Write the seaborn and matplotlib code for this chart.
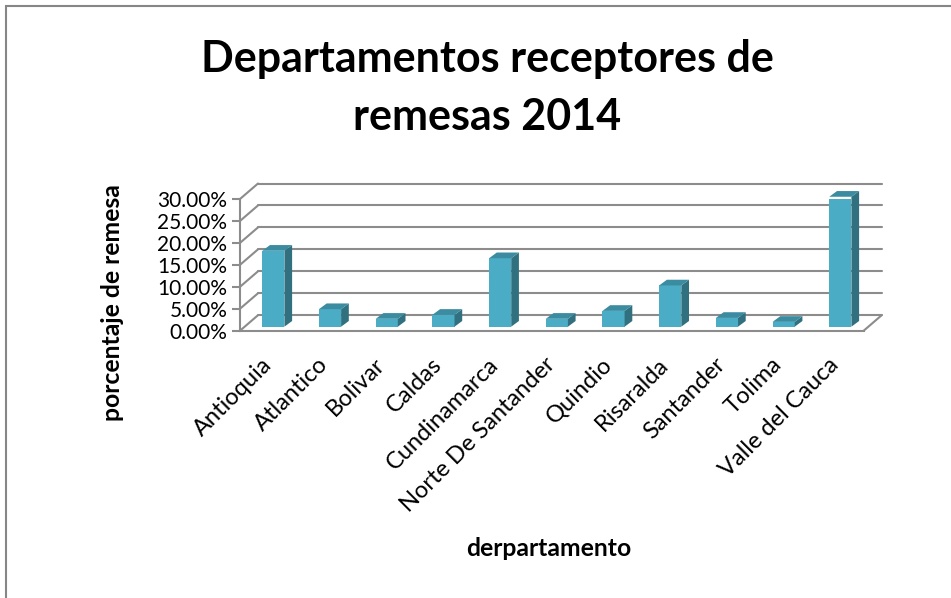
import pandas as pd
import matplotlib
matplotlib.use("Agg")
import matplotlib.pyplot as plt
import matplotlib.transforms as mtransforms
from matplotlib.patches import Polygon, Rectangle
from matplotlib.lines import Line2D
import seaborn as sns

# Data
departamentos = ["Antioquia", "Atlantico", "Bolivar", "Caldas", "Cundinamarca",
                 "Norte De Santander", "Quindio", "Risaralda", "Santander",
                 "Tolima", "Valle del Cauca"]
porcentaje = [0.173, 0.040, 0.018, 0.027, 0.156, 0.018, 0.036, 0.094, 0.020, 0.011, 0.296]
y_ticks = [0.00, 0.05, 0.10, 0.15, 0.20, 0.25, 0.30]

df = pd.DataFrame({"departamento": departamentos, "porcentaje": porcentaje})

sns.set_theme(style="white")
plt.rcParams["font.family"] = ["Lato", "DejaVu Sans"]
plt.rcParams["text.color"] = "black"

grid_col = "#8c8c8c"
front_col = "#4BACC6"
side_col = "#31707F"
top_col = "#3B8BA1"

fig = plt.figure(figsize=(9.51, 5.98), dpi=100)
ax = fig.add_axes([240 / 951, 1 - 330.7 / 598, 623.7 / 951, 131.7 / 598])

sns.barplot(data=df, x="departamento", y="porcentaje", color=front_col,
            saturation=1, width=0.39, ax=ax, zorder=3)
ax.set_xlim(-0.5, 10.5)
ax.set_ylim(0, 0.30)

# fake 3D: back wall offset and bar depth (pixels)
wall_dx, wall_dy = 18, 15.5
bar_dx, bar_dy = 5.0, 4.0
side_dx, side_dy = 7.7, 5.7

back = ax.transData + mtransforms.ScaledTranslation(wall_dx / 100, wall_dy / 100, fig.dpi_scale_trans)
bar_shift = ax.transData + mtransforms.ScaledTranslation(bar_dx / 100, bar_dy / 100, fig.dpi_scale_trans)
ident = mtransforms.IdentityTransform()

for y in y_ticks:
    ax.plot([-0.5, 10.5], [y, y], transform=back, color=grid_col, lw=1.5,
            clip_on=False, zorder=0.5)
    p0 = ax.transData.transform((-0.5, y))
    ax.add_line(Line2D([p0[0], p0[0] + wall_dx], [p0[1], p0[1] + wall_dy],
                       transform=ident, color=grid_col, lw=1.5, clip_on=False, zorder=0.5))
pr = ax.transData.transform((10.5, 0))
ax.add_line(Line2D([pr[0], pr[0] + wall_dx], [pr[1], pr[1] + wall_dy],
                   transform=ident, color=grid_col, lw=1.5, clip_on=False, zorder=0.5))

for p in list(ax.patches):
    p.set_transform(bar_shift)
    p.set_edgecolor("none")
    x0, y0 = bar_shift.transform((p.get_x(), 0))
    x1, y1 = bar_shift.transform((p.get_x() + p.get_width(), p.get_height()))
    side = [(x1, y0), (x1 + side_dx, y0 + side_dy), (x1 + side_dx, y1 + side_dy), (x1, y1)]
    top = [(x0, y1), (x1, y1), (x1 + side_dx, y1 + side_dy), (x0 + side_dx, y1 + side_dy)]
    ax.add_patch(Polygon(side, closed=True, transform=ident, facecolor=side_col,
                         edgecolor="none", clip_on=False, zorder=3))
    ax.add_patch(Polygon(top, closed=True, transform=ident, facecolor=top_col,
                         edgecolor="none", clip_on=False, zorder=3))

for s in ["top", "right"]:
    ax.spines[s].set_visible(False)
for s in ["left", "bottom"]:
    ax.spines[s].set_color(grid_col)
    ax.spines[s].set_linewidth(1.5)

ax.set_yticks(y_ticks)
ax.set_yticklabels([f"{v:.2%}" for v in y_ticks])
ax.tick_params(axis="y", left=True, length=6, width=1.5, color=grid_col,
               labelsize=15, labelcolor="black", pad=3)
ax.tick_params(axis="x", bottom=False, length=0, labelsize=17, labelcolor="black", pad=22)
plt.setp(ax.get_xticklabels(), rotation=45, ha="right", va="center", rotation_mode="anchor")
ax.set_xlabel("")
ax.set_ylabel("")

fig.text(487 / 951, 1 - 71.7 / 598, "Departamentos receptores de",
         ha="center", va="baseline", fontsize=31, fontweight="bold")
fig.text(487 / 951, 1 - 130 / 598, "remesas 2014",
         ha="center", va="baseline", fontsize=31, fontweight="bold")
fig.text(113 / 951, 1 - 303 / 598, "porcentaje de remesa", rotation=90,
         ha="center", va="center", fontsize=17.8, fontweight="bold")
fig.text(549 / 951, 1 - 549 / 598, "derpartamento",
         ha="center", va="center", fontsize=17.8, fontweight="bold")

fig.add_artist(Rectangle((5.5 / 951, -0.05), 1.1, (598 - 5.5) / 598 + 0.05,
                         transform=fig.transFigure, fill=False, edgecolor="#868686", lw=1.5))

fig.savefig("out.png", dpi=100)
